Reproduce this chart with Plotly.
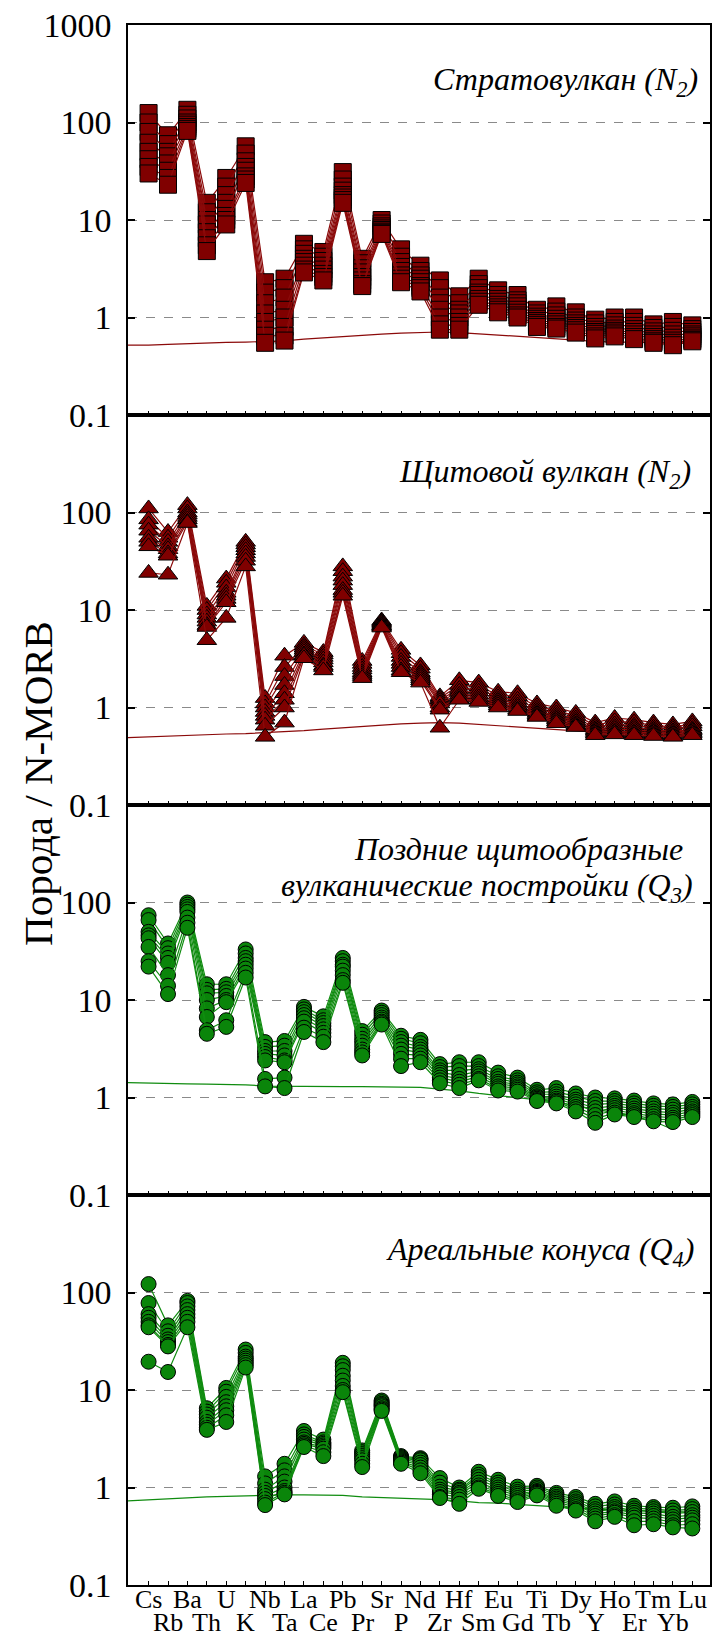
import plotly.graph_objects as go
from plotly.subplots import make_subplots

# --- data: spider diagram, rock / N-MORB ---
ELEMENTS = ["Cs", "Rb", "Ba", "Th", "U", "K", "Nb", "Ta", "La", "Ce", "Pb", "Pr", "Sr", "P",
            "Nd", "Zr", "Hf", "Sm", "Eu", "Gd", "Ti", "Tb", "Dy", "Y", "Ho", "Er", "Tm", "Yb", "Lu"]

PANEL_TITLES = [
    "<i>Стратовулкан (N<sub>2</sub>)</i>",
    "<i>Щитовой вулкан (N<sub>2</sub>)</i>",
    "<i>Поздние щитообразные</i>",
    "<i>Ареальные конуса (Q<sub>4</sub>)</i>",
]
PANEL3_TITLE_LINE2 = "<i>вулканические постройки (Q<sub>3</sub>)</i>"

Y_TICKS = [0.1, 1, 10, 100, 1000]
Y_TICK_TEXT = ["0.1", "1", "10", "100", "1000"]

# values per element (one row per element, one column per sample)
strato = [
    [125, 100, 80, 62, 50, 42, 35, 30],          # Cs
    [74, 60, 50, 45, 38, 32, 27, 23],            # Rb
    [135, 120, 110, 100, 95, 90, 86, 82],        # Ba
    [15, 12, 10, 9, 7.5, 6.5, 5.5, 4.8],         # Th
    [27, 22, 18, 15, 13, 11, 10, 9],             # U
    [57, 48, 40, 35, 32, 28, 26, 24],            # K
    [2.3, 1.8, 1.4, 1.1, 0.9, 0.75, 0.65, 0.55], # Nb
    [2.5, 2.0, 1.6, 1.2, 1.0, 0.8, 0.65, 0.58],  # Ta
    [5.7, 5.0, 4.5, 4.0, 3.7, 3.4, 3.1, 2.9],    # La
    [4.7, 4.2, 3.8, 3.4, 3.1, 2.8, 2.6, 2.4],    # Ce
    [31, 26, 22, 20, 18, 17, 16, 15],            # Pb
    [4.0, 3.6, 3.2, 2.9, 2.6, 2.4, 2.2, 2.1],    # Pr
    [10, 9.2, 8.6, 8.2, 7.9, 7.6, 7.4, 7.2],     # Sr
    [5.0, 4.2, 3.7, 3.3, 3.0, 2.7, 2.5, 2.3],    # P
    [3.4, 3.0, 2.7, 2.5, 2.3, 2.1, 2.0, 1.85],   # Nd
    [2.4, 2.0, 1.6, 1.4, 1.2, 1.0, 0.85, 0.75],  # Zr
    [1.65, 1.4, 1.2, 1.1, 1.0, 0.9, 0.82, 0.75], # Hf
    [2.5, 2.2, 2.0, 1.8, 1.7, 1.55, 1.45, 1.35], # Sm
    [1.9, 1.7, 1.55, 1.45, 1.35, 1.27, 1.2, 1.13],  # Eu
    [1.7, 1.5, 1.4, 1.3, 1.2, 1.12, 1.05, 1.0],  # Gd
    [1.2, 1.1, 1.02, 0.97, 0.92, 0.88, 0.84, 0.8],  # Ti
    [1.3, 1.15, 1.05, 0.97, 0.9, 0.85, 0.8, 0.77],  # Tb
    [1.13, 1.0, 0.93, 0.87, 0.82, 0.78, 0.74, 0.7], # Dy
    [0.95, 0.87, 0.8, 0.75, 0.71, 0.68, 0.64, 0.61],  # Y
    [1.0, 0.9, 0.83, 0.77, 0.73, 0.7, 0.67, 0.64],  # Ho
    [1.0, 0.9, 0.82, 0.76, 0.71, 0.67, 0.63, 0.6],  # Er
    [0.85, 0.78, 0.72, 0.67, 0.63, 0.6, 0.57, 0.55],  # Tm
    [0.9, 0.8, 0.73, 0.67, 0.62, 0.58, 0.55, 0.52],   # Yb
    [0.83, 0.76, 0.71, 0.67, 0.64, 0.61, 0.59, 0.57], # Lu
]

shield = [
    [110, 85, 75, 65, 55, 50, 45, 24],           # Cs
    [63, 55, 50, 45, 42, 38, 36, 23],            # Rb
    [119, 110, 100, 95, 90, 85, 80, 78],         # Ba
    [11, 10, 9, 8.3, 7.6, 7, 6.7, 4.9],          # Th
    [21, 19, 17, 15, 14, 13, 12, 8.3],           # U
    [50, 47, 44, 41, 38, 35, 32, 28],            # K
    [1.25, 1.1, 1.0, 0.9, 0.82, 0.75, 0.65, 0.5],  # Nb
    [3.4, 2.6, 2.1, 1.7, 1.4, 1.2, 1.0, 0.7],    # Ta
    [4.6, 4.3, 4.1, 3.9, 3.7, 3.5, 3.4, 3.2],    # La
    [3.7, 3.5, 3.3, 3.1, 2.9, 2.7, 2.6, 2.4],    # Ce
    [28, 25, 22, 20, 18, 16, 15, 14],            # Pb
    [3.0, 2.8, 2.6, 2.45, 2.3, 2.2, 2.1, 2.0],   # Pr
    [7.8, 7.6, 7.4, 7.2, 7.0, 6.9, 6.8, 6.6],    # Sr
    [3.9, 3.6, 3.3, 3.0, 2.8, 2.6, 2.4, 2.3],    # P
    [2.7, 2.5, 2.3, 2.2, 2.1, 2.0, 1.9, 1.8],    # Nd
    [1.3, 1.25, 1.2, 1.15, 1.1, 1.0, 0.95, 0.62],  # Zr
    [1.9, 1.7, 1.55, 1.45, 1.35, 1.28, 1.22, 1.2], # Hf
    [1.8, 1.65, 1.55, 1.45, 1.35, 1.27, 1.2, 1.14],  # Sm
    [1.45, 1.35, 1.27, 1.2, 1.15, 1.1, 1.05, 1.0],   # Eu
    [1.4, 1.3, 1.2, 1.12, 1.05, 1.0, 0.95, 0.92],    # Gd
    [1.1, 1.03, 0.97, 0.92, 0.88, 0.85, 0.82, 0.8],  # Ti
    [1.0, 0.93, 0.87, 0.82, 0.78, 0.75, 0.72, 0.69], # Tb
    [0.88, 0.82, 0.77, 0.73, 0.7, 0.67, 0.65, 0.63], # Dy
    [0.7, 0.66, 0.63, 0.6, 0.58, 0.56, 0.54, 0.52],  # Y
    [0.78, 0.72, 0.67, 0.63, 0.6, 0.57, 0.55, 0.53], # Ho
    [0.75, 0.7, 0.65, 0.62, 0.59, 0.56, 0.54, 0.52], # Er
    [0.7, 0.66, 0.62, 0.59, 0.57, 0.55, 0.53, 0.51], # Tm
    [0.67, 0.63, 0.6, 0.57, 0.55, 0.53, 0.51, 0.5],  # Yb
    [0.72, 0.68, 0.64, 0.6, 0.58, 0.56, 0.54, 0.52], # Lu
]

late_shield = [
    [74, 66, 50, 46, 43, 35, 25, 22],            # Cs
    [38, 34, 30, 27, 24, 18, 14, 11.5],          # Rb
    [100, 95, 90, 85, 80, 70, 62, 55],           # Ba
    [14.5, 12.7, 11.7, 10, 8.2, 6.7, 4.9, 4.5],  # Th
    [14.5, 13, 12, 11, 10, 9.5, 6.2, 5.3],       # U
    [33, 30, 27, 25, 23, 21, 19, 17],            # K
    [3.7, 3.3, 3.0, 2.8, 2.6, 2.4, 1.55, 1.3],   # Nb
    [3.8, 3.4, 3.0, 2.7, 2.4, 2.3, 1.6, 1.25],   # Ta
    [8.5, 8.0, 7.5, 7.0, 6.5, 6.0, 5.2, 4.7],    # La
    [6.8, 6.2, 5.8, 5.4, 5.0, 4.6, 4.2, 3.7],    # Ce
    [27, 25, 23, 22, 20, 18, 16, 15],            # Pb
    [4.8, 4.4, 4.0, 3.7, 3.4, 3.1, 2.9, 2.7],    # Pr
    [7.8, 7.4, 7.0, 6.6, 6.3, 6.0, 5.8, 5.6],    # Sr
    [4.3, 4.0, 3.7, 3.4, 3.1, 2.8, 2.5, 2.1],    # P
    [3.9, 3.6, 3.3, 3.1, 2.9, 2.7, 2.5, 2.3],    # Nd
    [2.2, 2.05, 1.9, 1.8, 1.7, 1.6, 1.5, 1.4],   # Zr
    [2.3, 2.1, 1.9, 1.7, 1.55, 1.45, 1.35, 1.25],  # Hf
    [2.3, 2.1, 1.95, 1.85, 1.75, 1.65, 1.55, 1.5], # Sm
    [1.8, 1.65, 1.55, 1.45, 1.38, 1.3, 1.24, 1.18],  # Eu
    [1.6, 1.5, 1.42, 1.36, 1.3, 1.25, 1.2, 1.15],    # Gd
    [1.2, 1.13, 1.08, 1.03, 1.0, 0.97, 0.94, 0.92],  # Ti
    [1.25, 1.15, 1.08, 1.02, 0.97, 0.93, 0.9, 0.87], # Tb
    [1.1, 1.02, 0.95, 0.9, 0.85, 0.8, 0.76, 0.72],   # Dy
    [1.0, 0.92, 0.85, 0.78, 0.72, 0.66, 0.6, 0.55],  # Y
    [0.98, 0.92, 0.87, 0.82, 0.78, 0.74, 0.7, 0.67], # Ho
    [0.93, 0.87, 0.82, 0.77, 0.73, 0.69, 0.66, 0.63],  # Er
    [0.87, 0.82, 0.77, 0.72, 0.68, 0.64, 0.6, 0.57],   # Tm
    [0.85, 0.8, 0.75, 0.7, 0.66, 0.62, 0.59, 0.56],    # Yb
    [0.9, 0.85, 0.8, 0.76, 0.72, 0.69, 0.66, 0.63],    # Lu
]

cones = [
    [122, 78, 60, 55, 50, 46, 44, 19.5],         # Cs
    [46, 40, 36, 33, 31, 29, 28, 15.3],          # Rb
    [82, 78, 72, 66, 60, 55, 50, 44],            # Ba
    [6.5, 6.0, 5.6, 5.2, 4.7, 4.4, 4.1, 3.9],    # Th
    [10.5, 9.6, 8.5, 7.5, 6.8, 6.2, 5.5, 4.7],   # U
    [26, 24, 22, 21, 20, 19, 18, 17],            # K
    [1.3, 1.1, 0.95, 0.88, 0.82, 0.76, 0.7, 0.66],   # Nb
    [1.75, 1.5, 1.3, 1.15, 1.0, 0.92, 0.88, 0.85],   # Ta
    [3.8, 3.5, 3.3, 3.1, 2.9, 2.8, 2.7, 2.6],    # La
    [3.1, 2.9, 2.8, 2.7, 2.6, 2.5, 2.3, 2.1],    # Ce
    [19, 17.5, 16, 14, 12.5, 11, 10, 9.5],       # Pb
    [2.4, 2.3, 2.2, 2.1, 2.0, 1.9, 1.75, 1.62],  # Pr
    [7.8, 7.5, 7.2, 7.0, 6.8, 6.5, 6.3, 6.1],    # Sr
    [2.1, 2.05, 2.0, 1.95, 1.9, 1.85, 1.8, 1.75],  # P
    [2.0, 1.95, 1.9, 1.8, 1.7, 1.6, 1.5, 1.4],   # Nd
    [1.25, 1.12, 1.02, 0.95, 0.9, 0.85, 0.8, 0.78],  # Zr
    [1.0, 0.95, 0.92, 0.88, 0.85, 0.8, 0.75, 0.68],  # Hf
    [1.45, 1.35, 1.28, 1.2, 1.12, 1.05, 1.0, 0.97],  # Sm
    [1.2, 1.12, 1.06, 1.0, 0.95, 0.9, 0.86, 0.82],   # Eu
    [1.02, 0.95, 0.9, 0.86, 0.82, 0.78, 0.74, 0.71], # Gd
    [1.04, 1.0, 0.96, 0.92, 0.9, 0.88, 0.86, 0.83],  # Ti
    [0.88, 0.84, 0.8, 0.77, 0.74, 0.71, 0.68, 0.65], # Tb
    [0.8, 0.76, 0.72, 0.69, 0.66, 0.63, 0.6, 0.58],  # Dy
    [0.68, 0.64, 0.6, 0.57, 0.54, 0.51, 0.48, 0.45], # Y
    [0.72, 0.67, 0.63, 0.6, 0.57, 0.55, 0.52, 0.5],  # Ho
    [0.65, 0.61, 0.58, 0.55, 0.52, 0.49, 0.45, 0.41],  # Er
    [0.63, 0.6, 0.57, 0.54, 0.51, 0.48, 0.45, 0.42],   # Tm
    [0.62, 0.58, 0.54, 0.5, 0.47, 0.44, 0.41, 0.39],   # Yb
    [0.64, 0.6, 0.56, 0.52, 0.49, 0.46, 0.42, 0.38],   # Lu
]

# thin reference curves (first value = left edge of the plot, then one per element)
strato_ref = [0.52, 0.52, 0.53, 0.54, 0.55, 0.555, 0.56, 0.57, 0.575, 0.6, 0.62, 0.64, 0.66, 0.675,
              0.69, 0.7, 0.71, 0.7, 0.68, 0.66, 0.64, 0.62, 0.6, 0.58, 0.57, 0.56, 0.56, 0.55, 0.55, 0.55]
shield_ref = [0.49, 0.5, 0.51, 0.52, 0.53, 0.535, 0.54, 0.55, 0.56, 0.58, 0.6, 0.62, 0.64, 0.66,
              0.68, 0.69, 0.7, 0.69, 0.67, 0.65, 0.63, 0.61, 0.59, 0.57, 0.56, 0.55, 0.55, 0.54, 0.54, 0.54]
late_shield_ref = [1.42, 1.40, 1.39, 1.38, 1.37, 1.36, 1.35, 1.31, 1.30, 1.29, 1.29, 1.29, 1.29, 1.29,
                   1.28, 1.27, 1.22, 1.17, 1.10, 1.05, 1.0, 0.95, 0.9, 0.82, 0.76, 0.7, 0.64, 0.57, 0.47, None]
cones_ref = [0.73, 0.75, 0.77, 0.79, 0.8, 0.81, 0.82, 0.84, 0.84, 0.84, 0.84, 0.83, 0.8, 0.79,
             0.77, 0.76, 0.75, 0.73, 0.7, 0.69, 0.67, 0.65, 0.63, 0.61, 0.6, 0.59, 0.58, 0.57, 0.57, 0.56]

X_MIN, X_MAX = -1.06, 28.91

RED = "#800000"
RED_LINE = "#8b0a0a"
GREEN = "#0a850a"
GREEN_LINE = "#108c10"
SERIF = "Liberation Serif, Times New Roman, serif"

panels = [
    (strato, strato_ref, "square", 17, RED, RED_LINE),
    (shield, shield_ref, "triangle-up", 17, RED, RED_LINE),
    (late_shield, late_shield_ref, "circle", 15, GREEN, GREEN_LINE),
    (cones, cones_ref, "circle", 15, GREEN, GREEN_LINE),
]

fig = make_subplots(rows=4, cols=1, vertical_spacing=0)
xs = list(range(len(ELEMENTS)))

for i, (table, ref, symbol, size, fill, line_col) in enumerate(panels, start=1):
    fig.add_trace(go.Scatter(
        x=[X_MIN] + xs, y=ref, mode="lines",
        line=dict(color=line_col, width=1.2), showlegend=False, hoverinfo="skip",
    ), row=i, col=1)
    samples = list(zip(*table))
    for s in samples:
        fig.add_trace(go.Scatter(
            x=xs, y=list(s), mode="lines+markers",
            line=dict(color=line_col, width=1.2),
            marker=dict(symbol=symbol, size=size, color=fill,
                        line=dict(color="black", width=1)),
            showlegend=False,
        ), row=i, col=1)

    tv = Y_TICKS if i == 1 else Y_TICKS[:-1]
    tt = Y_TICK_TEXT if i == 1 else Y_TICK_TEXT[:-1]
    fig.update_yaxes(
        type="log", range=[-1, 3], tickvals=tv, ticktext=tt,
        ticks="inside", ticklen=7, tickwidth=1.5, tickcolor="black",
        showline=True, linecolor="black", linewidth=1.5, mirror="ticks",
        showgrid=True, gridcolor="#8a8a8a", griddash="dash", gridwidth=1,
        zeroline=False, ticklabelstandoff=8,
        tickfont=dict(family=SERIF, size=34, color="black"),
        row=i, col=1,
    )
    fig.update_xaxes(
        range=[X_MIN, X_MAX], tickvals=xs, showticklabels=False,
        ticks="inside", ticklen=4, tickwidth=1, tickcolor="black",
        showline=True, linecolor="black", linewidth=1.5, mirror=True,
        showgrid=False, zeroline=False,
        row=i, col=1,
    )

# element labels under the bottom panel, staggered on two rows
label_font = dict(family=SERIF, size=26, color="black")
for k, el in enumerate(ELEMENTS):
    if k % 2 == 0:
        fig.add_annotation(x=k, xref="x4", y=-0.0096, yref="paper", text=el,
                           showarrow=False, xanchor="center", yanchor="middle", font=label_font)
    else:
        fig.add_annotation(x=k, xref="x4", y=-0.0346, yref="paper", text=el,
                           showarrow=False, xanchor="center", yanchor="bottom", font=label_font)

title_font = dict(family=SERIF, size=32, color="black")
title_pos = [(0.982, 0.9635, "right"), (0.970, 0.7122, "right"),
             (0.6707, 0.4717, "center"), (0.976, 0.2135, "right")]
for text, (tx, ty, anchor) in zip(PANEL_TITLES, title_pos):
    fig.add_annotation(x=tx, y=ty, xref="paper", yref="paper", text=text,
                       showarrow=False, xanchor=anchor, yanchor="middle", font=title_font)
fig.add_annotation(x=0.9735, y=0.4474, xref="paper", yref="paper", text=PANEL3_TITLE_LINE2,
                   showarrow=False, xanchor="right", yanchor="middle", font=title_font)

# y-axis title
fig.add_annotation(
    x=0, xref="paper", xshift=-90, y=0.5135, yref="paper",
    text="Порода / N-MORB", textangle=-90, showarrow=False,
    xanchor="center", yanchor="middle",
    font=dict(family=SERIF, size=41, color="black"),
)

fig.update_layout(
    width=714, height=1640,
    margin=dict(l=128, r=2, t=25, b=55),
    paper_bgcolor="white", plot_bgcolor="white",
    font=dict(family=SERIF, size=30, color="black"),
    showlegend=False,
)

# drop the browser's default body margin so the figure sits at the page origin
fig.write_html("out.html", config={"displayModeBar": False},
               post_script="document.body.style.margin='0';")
